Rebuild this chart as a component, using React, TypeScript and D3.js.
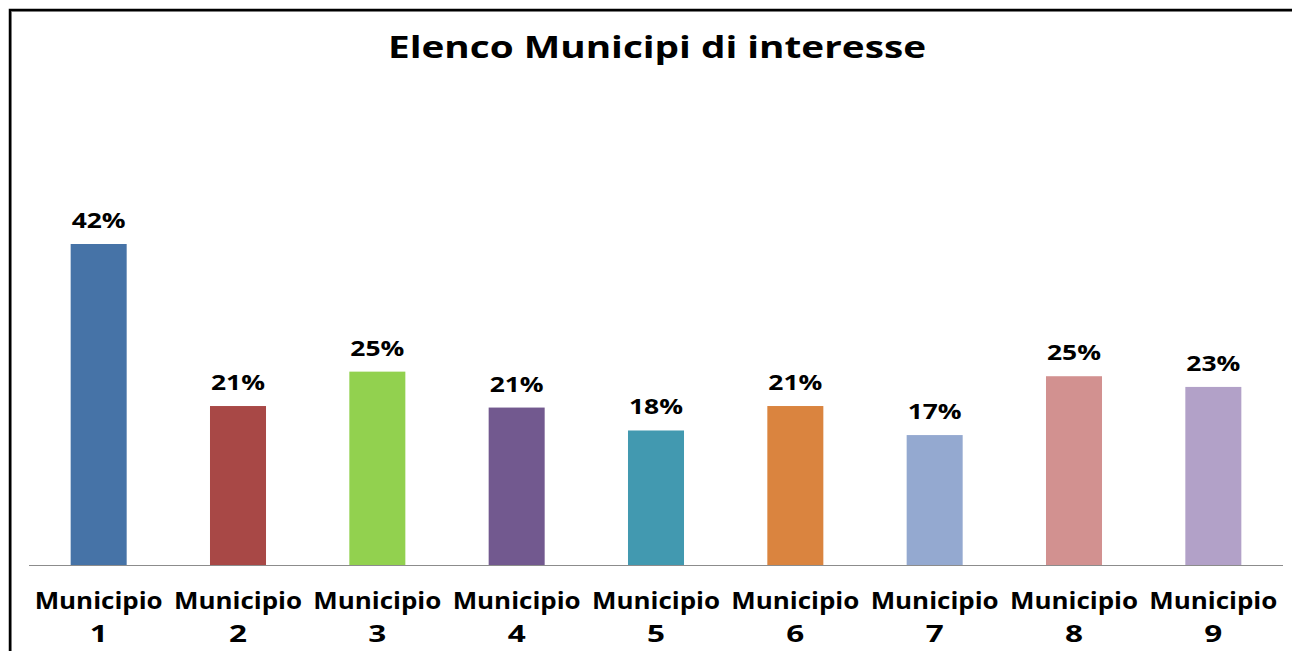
import React from "react";
import * as d3 from "d3";

const categories = ["Municipio 1", "Municipio 2", "Municipio 3", "Municipio 4", "Municipio 5", "Municipio 6", "Municipio 7", "Municipio 8", "Municipio 9"];
const values = [42, 20.8, 25.3, 20.6, 17.6, 20.8, 17.0, 24.7, 23.3];
const colors = ["#4673A7", "#A84846", "#92D14F", "#72598F", "#4299B0", "#DA843F", "#94A9D0", "#D29190", "#B2A1C8"];
const title = "Elenco Municipi di interesse";

const W = 1292;
const H = 651;
const FONT = "'Open Sans', Lato, sans-serif";

export default function App() {
  const x = d3.scaleBand<string>().domain(categories).range([29, 1283]).paddingInner(0.598).paddingOuter(0.299);
  const y = d3.scaleLinear().domain([0, 42]).range([565, 244]);

  return (
    <svg width={W} height={H} style={{ position: "absolute", left: 0, top: 0, background: "#fff" }}>
      <rect x={0} y={0} width={W} height={H} fill="#fff" />
      {/* frame */}
      <path d={`M${W},11.5 H11.5 V${H}`} fill="none" stroke="#a6a6a6" strokeWidth={1} />
      <path d={`M${W},10 H10 V${H}`} fill="none" stroke="#000" strokeWidth={2.5} />
      <text x={388} y={58} fontFamily={FONT} fontWeight={700} fontSize={30} fill="#000" textLength={538} lengthAdjust="spacingAndGlyphs">
        {title}
      </text>
      {categories.map((c, i) => (
        <rect key={c} x={x(c)} y={y(values[i])} width={x.bandwidth()} height={y(0) - y(values[i])} fill={colors[i]} />
      ))}
      <line x1={29} x2={1283} y1={565.5} y2={565.5} stroke="#8c8c8c" strokeWidth={1} />
      {categories.map((c, i) => {
        const cx = (x(c) as number) + x.bandwidth() / 2;
        return (
          <text key={"v" + c} x={cx - 27} y={y(values[i]) - 16} fontFamily={FONT} fontWeight={700} fontSize={21} fill="#000" textLength={54} lengthAdjust="spacingAndGlyphs">
            {d3.format(".0f")(values[i]) + "%"}
          </text>
        );
      })}
      {categories.map((c) => {
        const parts = c.split(" ");
        const cx = (x(c) as number) + x.bandwidth() / 2;
        return (
          <text key={"c" + c} fontFamily={FONT} fontWeight={700} fontSize={24} fill="#000" lengthAdjust="spacingAndGlyphs">
            <tspan x={cx - 64} y={609} textLength={128} lengthAdjust="spacingAndGlyphs">{parts[0]}</tspan>
            <tspan x={cx - 9} y={642} textLength={18} lengthAdjust="spacingAndGlyphs">{parts[1]}</tspan>
          </text>
        );
      })}
    </svg>
  );
}
